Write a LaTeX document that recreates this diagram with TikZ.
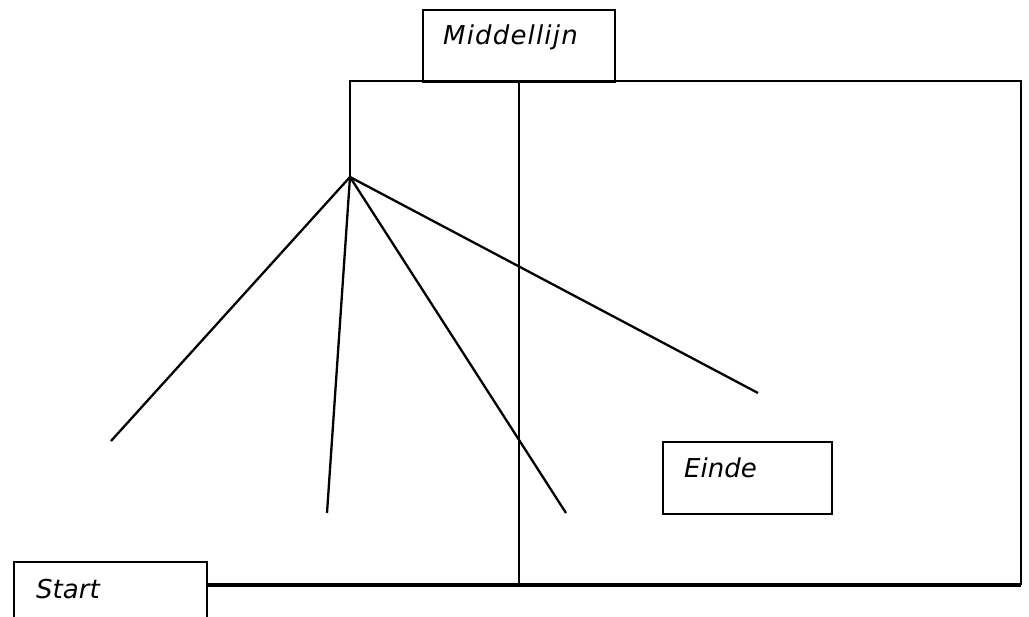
\documentclass[tikz,border=0pt]{standalone}
\usepackage{fontspec}
\setmainfont{DejaVu Sans}
\begin{document}
\begin{tikzpicture}[x=1pt,y=-1pt,
  box/.style={draw, line width=2.1pt, rectangle, inner sep=0pt},
  lbl/.style={anchor=base west, inner sep=0pt, font=\fontsize{26}{30}\selectfont\itshape},
  ln/.style={line width=2.3pt},
  thick line/.style={line width=3.4pt}]
\useasboundingbox (0,0) rectangle (1029,617);
% coordinates
\coordinate (tl) at (350,81);
\coordinate (tr) at (1021,81);
\coordinate (br) at (1021,585);
\coordinate (mt) at (519,81);
\coordinate (mb) at (519,585);
\coordinate (fan) at (350,177);
\coordinate (e1) at (111,441);
\coordinate (e2) at (327,513);
\coordinate (e3) at (566,513);
\coordinate (e4) at (758,393);
% boxes
\node[box, minimum width=192pt, minimum height=72pt, anchor=north west] (mid) at (422,9) {};
\node[lbl] (midt) at (443,45) {\addfontfeature{LetterSpace=4.5}Middellijn};
\node[box, minimum width=169pt, minimum height=72pt, anchor=north west] (einde) at (662,441) {};
\node[lbl] (eindet) at (684,478) {Einde};
\node[box, minimum width=193pt, minimum height=70pt, anchor=north west] (start) at (13,561) {};
\node[lbl] (startt) at (36,598) {Start};
% frame
\draw[ln] (fan) -- (tl) -- (tr) -- (br);
\draw[thick line] (br) -- (start.east |- br);
\draw[ln] (mt) -- (mb);
% fan lines
\draw[ln] (fan) -- (e1);
\draw[ln] (fan) -- (e2);
\draw[ln] (fan) -- (e3);
\draw[ln] (fan) -- (e4);
\end{tikzpicture}
\end{document}
